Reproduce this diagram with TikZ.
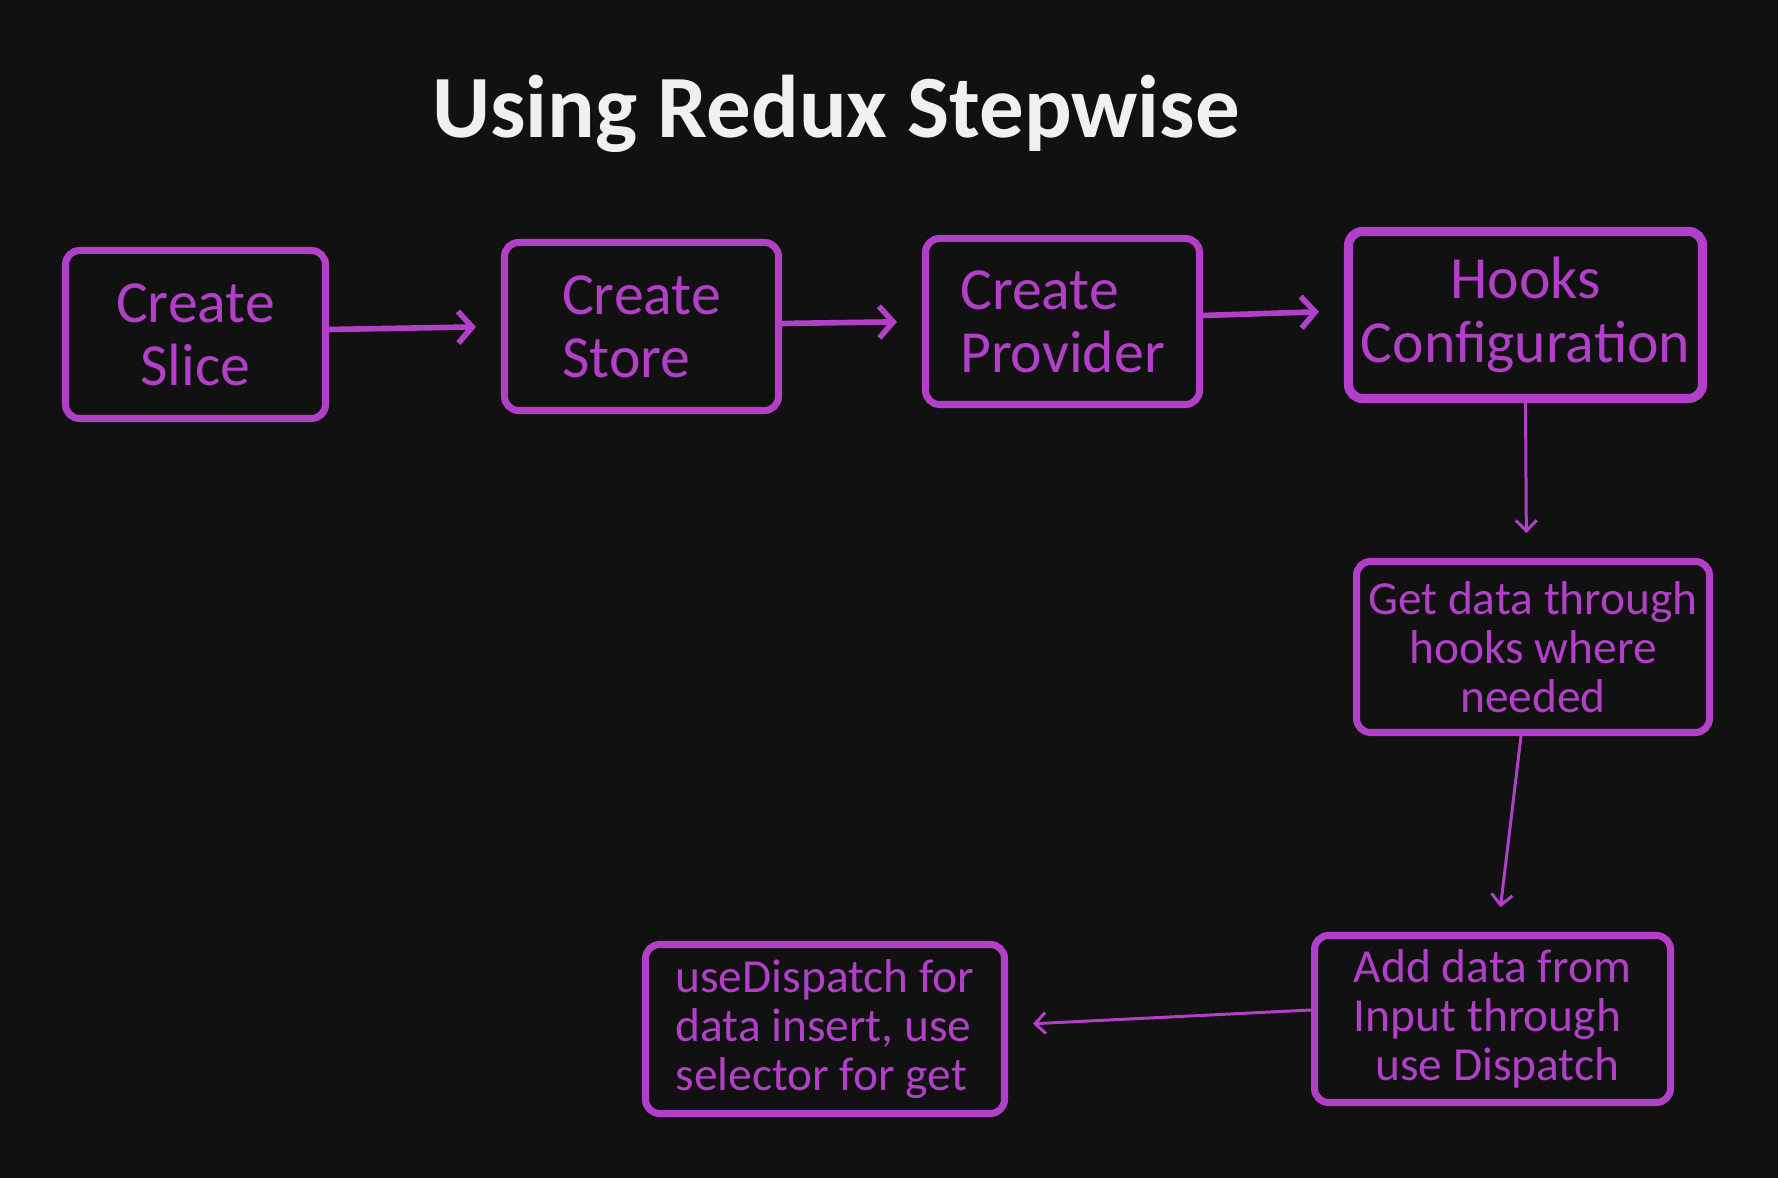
\documentclass[tikz,border=0pt]{standalone}
\usepackage{fontspec}
\setmainfont{Carlito}
\usetikzlibrary{arrows.meta}
\definecolor{bg}{HTML}{111111}
\definecolor{stepviolet}{HTML}{B13FC8}
\definecolor{titlewhite}{HTML}{F0F0F0}

\begin{document}
\begin{tikzpicture}[
	box/.style={draw=stepviolet,line width=2pt,rounded corners=4pt,fill=bg,text=stepviolet,inner sep=0pt},
	bigbox/.style={box,font=\fontsize{17}{18}\selectfont},
	smallbox/.style={box,font=\fontsize{13.5}{14}\selectfont},
	fatarrow/.style={draw=stepviolet,line width=1.6pt,shorten >=0.25cm,-{Straight Barb[length=4pt,width=9pt]}},
	thinarrow/.style={draw=stepviolet,line width=0.85pt,shorten >=0.25cm,-{Straight Barb[length=3pt,width=6pt]}}
	]
	\fill[bg](0,0)rectangle(17.78,11.78);
	\node[anchor=base,text=titlewhite,font=\bfseries\fontsize{25.3}{28}\selectfont](title)at(8.36,10.40){Using Redux Stepwise};
	\node[bigbox,minimum width=2.60cm,minimum height=1.68cm,align=center](slice)at(1.955,8.435){Create\\Slice};
	\node[bigbox,minimum width=2.74cm,minimum height=1.68cm,align=left](store)at(6.415,8.515){Create\\Store};
	\node[bigbox,minimum width=2.74cm,minimum height=1.66cm,align=left](provider)at(10.625,8.565){Create\\Provider};
	\node[bigbox,line width=2.6pt,minimum width=3.54cm,minimum height=1.67cm,align=center](hooks)at(15.255,8.63){Hooks\\Configuration};
	\node[smallbox,minimum width=3.53cm,minimum height=1.71cm,align=center](get)at(15.33,5.31){Get data through\\hooks where\\needed};
	\node[smallbox,minimum width=3.56cm,minimum height=1.67cm,align=left](add)at(14.925,1.59){Add data from\\Input through\\\ \ use Dispatch};
	\node[smallbox,minimum width=3.59cm,minimum height=1.69cm,align=left](dispatch)at(8.25,1.49){useDispatch for\\data insert, use\\selector for get};
	\draw[fatarrow]([yshift=0.05cm]slice.east)--(store.west);
	\draw[fatarrow]([yshift=0.03cm]store.east)--(provider.west);
	\draw[fatarrow]([yshift=0.06cm]provider.east)--([yshift=0.04cm]hooks.west);
	\draw[thinarrow](hooks.south)--([xshift=-0.065cm]get.north);
	\draw[thinarrow]([xshift=-0.12cm]get.south)--([xshift=0.05cm]add.north);
	\draw[thinarrow]([yshift=0.09cm]add.west)--([yshift=0.04cm]dispatch.east);
\end{tikzpicture}
\end{document}
